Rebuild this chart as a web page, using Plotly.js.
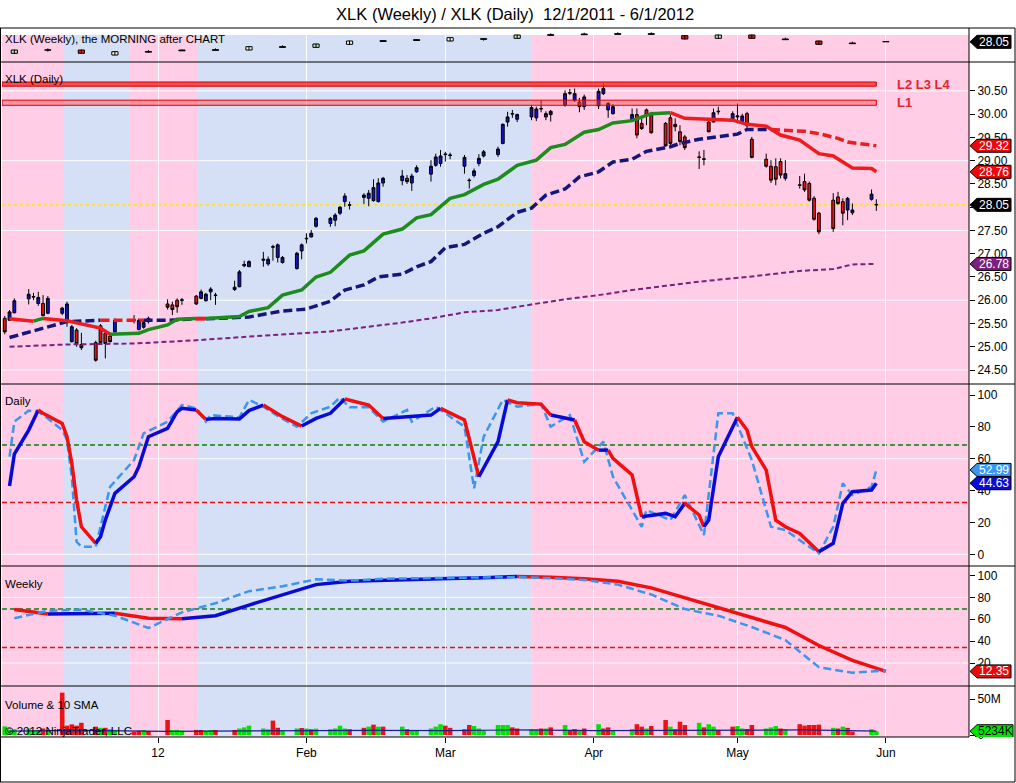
<!DOCTYPE html>
<html>
<head>
<meta charset="utf-8">
<script src="https://cdn.plot.ly/plotly-3.0.1.min.js"></script>
<style>
  html, body { margin: 0; padding: 0; background: #fff; }
  #chart { width: 1016px; height: 783px; }
</style>
</head>
<body>
<div id="chart"></div>
<script>
/////Data/////
// daily XLK bars, one row per week
const dates = [
  '2011-11-30',
  '2011-12-01', '2011-12-02', '2011-12-05', '2011-12-06', '2011-12-07', '2011-12-08', '2011-12-09',
  '2011-12-12', '2011-12-13', '2011-12-14', '2011-12-15', '2011-12-16',
  '2011-12-19', '2011-12-20', '2011-12-21', '2011-12-22', '2011-12-23',
  '2011-12-27', '2011-12-28', '2011-12-29', '2011-12-30',
  '2012-01-03', '2012-01-04', '2012-01-05', '2012-01-06',
  '2012-01-09', '2012-01-10', '2012-01-11', '2012-01-12', '2012-01-13',
  '2012-01-17', '2012-01-18', '2012-01-19', '2012-01-20',
  '2012-01-23', '2012-01-24', '2012-01-25', '2012-01-26', '2012-01-27',
  '2012-01-30', '2012-01-31', '2012-02-01', '2012-02-02', '2012-02-03',
  '2012-02-06', '2012-02-07', '2012-02-08', '2012-02-09', '2012-02-10',
  '2012-02-13', '2012-02-14', '2012-02-15', '2012-02-16', '2012-02-17',
  '2012-02-21', '2012-02-22', '2012-02-23', '2012-02-24',
  '2012-02-27', '2012-02-28', '2012-02-29', '2012-03-01', '2012-03-02',
  '2012-03-05', '2012-03-06', '2012-03-07', '2012-03-08', '2012-03-09',
  '2012-03-12', '2012-03-13', '2012-03-14', '2012-03-15', '2012-03-16',
  '2012-03-19', '2012-03-20', '2012-03-21', '2012-03-22', '2012-03-23',
  '2012-03-26', '2012-03-27', '2012-03-28', '2012-03-29', '2012-03-30',
  '2012-04-02', '2012-04-03', '2012-04-04', '2012-04-05',
  '2012-04-09', '2012-04-10', '2012-04-11', '2012-04-12', '2012-04-13',
  '2012-04-16', '2012-04-17', '2012-04-18', '2012-04-19', '2012-04-20',
  '2012-04-23', '2012-04-24', '2012-04-25', '2012-04-26', '2012-04-27',
  '2012-04-30', '2012-05-01', '2012-05-02', '2012-05-03', '2012-05-04',
  '2012-05-07', '2012-05-08', '2012-05-09', '2012-05-10', '2012-05-11',
  '2012-05-14', '2012-05-15', '2012-05-16', '2012-05-17', '2012-05-18',
  '2012-05-21', '2012-05-22', '2012-05-23', '2012-05-24', '2012-05-25',
  '2012-05-29', '2012-05-30'
];
const opens = [
  25.61,
  25.57, 25.73, 26.03, 26.08, 25.93, 25.93, 25.72,
  25.72, 25.56, 25.11, 25.36, 25.05,
  25.09, 25.45, 25.29, 25.23, 25.32,
  25.57, 25.37, 25.42, 25.54,
  25.92, 25.90, 26.00, 26.01,
  26.09, 26.04, 25.99, 26.18, 26.10,
  26.23, 26.29, 26.74, 26.72,
  26.86, 26.78, 27.14, 26.92, 26.81,
  26.68, 27.06, 27.32, 27.36, 27.59,
  27.65, 27.72, 27.87, 28.12, 28.04,
  28.21, 28.19, 28.14, 28.12, 28.52,
  28.57, 28.62, 28.52, 28.76,
  28.71, 28.90, 28.94, 29.13, 29.11,
  28.88, 28.57, 28.68, 28.94, 29.10,
  29.13, 29.37, 29.83, 30.00, 29.89,
  29.94, 29.92, 30.11, 29.94, 29.99,
  30.19, 30.45, 30.30, 30.26, 30.16,
  30.18, 30.44, 30.09, 30.01,
  29.87, 29.99, 29.80, 30.09, 29.99,
  29.80, 29.92, 29.78, 29.62, 29.51,
  29.08, 29.04, 29.83, 29.83, 30.05,
  29.90, 29.94, 29.84, 30.01, 29.46,
  29.03, 28.88, 28.87, 28.98, 28.62,
  28.48, 28.55, 28.51, 28.19, 27.87,
  28.15, 28.22, 28.12, 27.94, 27.88,
  28.17, 28.06
];
const highs = [
  25.66,
  25.79, 26.04, 26.24, 26.16, 26.18, 26.11, 26.09,
  25.86, 25.97, 25.47, 25.40, 25.30,
  25.13, 25.49, 25.32, 25.27, 25.61,
  25.68, 25.61, 25.56, 25.65,
  26.02, 25.97, 26.04, 26.05,
  26.11, 26.23, 26.16, 26.28, 26.16,
  26.42, 26.65, 26.85, 26.86,
  27.04, 26.94, 27.19, 27.22, 26.95,
  27.04, 27.22, 27.44, 27.51, 27.79,
  27.79, 27.87, 28.02, 28.30, 28.12,
  28.30, 28.37, 28.60, 28.62, 28.65,
  28.80, 28.69, 28.72, 28.90,
  29.01, 29.15, 29.23, 29.19, 29.17,
  29.12, 28.62, 28.83, 29.14, 29.23,
  29.30, 29.80, 30.05, 30.09, 30.01,
  30.19, 30.16, 30.30, 30.06, 30.09,
  30.51, 30.54, 30.55, 30.35, 30.42,
  30.55, 30.66, 30.26, 30.21,
  30.12, 30.12, 29.91, 30.12, 30.05,
  29.83, 29.99, 29.91, 29.76, 29.55,
  29.20, 29.23, 29.91, 30.12, 30.16,
  30.06, 30.23, 30.01, 30.05, 29.51,
  29.15, 29.01, 29.05, 29.05, 29.01,
  28.67, 28.72, 28.55, 28.24, 27.90,
  28.30, 28.33, 28.19, 28.22, 28.08,
  28.38, 28.17
];
const lows = [
  25.27,
  25.56, 25.72, 25.91, 26.00, 25.88, 25.65, 25.70,
  25.68, 25.43, 25.09, 25.00, 24.93,
  24.68, 25.06, 24.75, 25.09, 25.30,
  25.50, 25.35, 25.39, 25.50,
  25.80, 25.68, 25.73, 25.90,
  25.90, 26.02, 25.97, 26.00, 25.90,
  26.20, 26.28, 26.71, 26.72,
  26.72, 26.74, 26.85, 26.81, 26.79,
  26.66, 26.88, 27.22, 27.35, 27.56,
  27.58, 27.59, 27.83, 28.01, 27.95,
  28.07, 28.02, 28.12, 28.10, 28.44,
  28.47, 28.50, 28.35, 28.74,
  28.55, 28.87, 28.87, 28.98, 29.03,
  28.72, 28.40, 28.64, 28.88, 29.07,
  29.08, 29.35, 29.73, 29.92, 29.83,
  29.87, 29.85, 30.04, 29.87, 29.84,
  30.16, 30.41, 30.26, 30.04, 30.09,
  30.11, 30.41, 29.92, 29.99,
  29.83, 29.48, 29.66, 29.76, 29.58,
  29.30, 29.30, 29.63, 29.33, 29.23,
  28.82, 28.90, 29.61, 29.82, 29.99,
  29.83, 29.80, 29.80, 29.69, 29.05,
  28.85, 28.52, 28.47, 28.62, 28.57,
  28.40, 28.33, 28.12, 27.71, 27.42,
  27.47, 28.05, 27.61, 27.72, 27.83,
  28.14, 27.92
];
const closes = [
  25.32,
  25.75, 25.99, 26.13, 26.07, 26.06, 25.67, 26.04,
  25.83, 25.92, 25.43, 25.07, 24.98,
  24.71, 25.09, 25.07, 25.11, 25.57,
  25.58, 25.57, 25.52, 25.61,
  25.85, 25.80, 25.86, 26.00,
  25.92, 26.18, 26.13, 26.24, 26.11,
  26.28, 26.61, 26.77, 26.83,
  26.88, 26.88, 27.15, 27.19, 26.92,
  27.01, 27.19, 27.33, 27.44, 27.76,
  27.76, 27.83, 28.00, 28.24, 28.05,
  28.26, 28.30, 28.42, 28.52, 28.62,
  28.67, 28.55, 28.67, 28.85,
  28.88, 29.08, 29.10, 29.14, 29.12,
  29.07, 28.58, 28.78, 29.05, 29.19,
  29.25, 29.78, 29.94, 30.01, 29.99,
  30.14, 30.11, 30.12, 30.01, 30.06,
  30.44, 30.46, 30.44, 30.16, 30.37,
  30.49, 30.55, 30.23, 30.16,
  29.99, 29.55, 29.69, 29.98, 29.60,
  29.32, 29.37, 29.73, 29.41, 29.28,
  29.07, 29.03, 29.62, 30.03, 30.06,
  30.01, 29.96, 29.96, 29.75, 29.07,
  28.88, 28.58, 28.60, 28.69, 28.72,
  28.47, 28.37, 28.15, 27.74, 27.47,
  27.54, 28.08, 27.87, 28.19, 27.94,
  28.28, 28.05
];
// bar colour as painted (b = blue, r = red)
const barDir = ('r bbbbbrb bbbrr rrrrb bbbb rrrr rbbbb bbbb bbbbb bbbbb bbbbb bbbbb brbb ' +
  'bbbbb bbbbb bbbbb bbbbb bbbrb bbbb brrrr rrrrr rrrbb bbbrr rrrrb rrrrr rrrbb br')
  .replace(/\s/g, '').split('');
// volume in millions, colour g/r
const volume = [
  12,
  7, 8, 9, 6, 7, 9, 7,
  58.8, 13, 14.8, 13, 17,
  11.6, 10, 10, 7.9, 7,
  4.6, 6, 7, 5.6,
  20.8, 7, 7, 6,
  7, 7, 6, 7, 7,
  7, 9, 10.6, 13,
  9, 8, 20, 10, 6,
  9, 9.7, 9, 8, 8.8,
  8, 9, 13, 9, 8,
  10, 11.6, 14.4, 11.6, 11.6,
  11.6, 8, 6, 6,
  9, 11.6, 15, 13, 10,
  8, 13.9, 12.5, 9, 6,
  13.9, 13.9, 13.9, 10.6, 9,
  8, 8, 9, 9, 10.6,
  13.9, 7, 8.3, 7, 9,
  15, 9, 10.6, 6,
  8.3, 15, 11.6, 9, 12.5,
  20.8, 11.6, 8, 18.5, 13.9,
  17, 10.6, 15, 11.6, 7,
  11.6, 12.5, 9, 8.3, 13.9,
  9, 10.6, 12.5, 9, 8,
  15, 13, 13.9, 13.9, 14.4,
  10, 9, 11.6, 10, 4.6,
  8, 5.234
];
const volDir = ('g gggggrg rrrrr rgrgg rrgr rggg rrggr rggg ggrrg grgrg ggggr rgrgr grgg ' +
  'gggrr rrggg gggrr ggrgr grrgr grrg grrgr rgrrr grggr rggrr gggrg rrrrr grgrr gg')
  .replace(/\s/g, '').split('');
const volSmaDates = ['2011-12-01', '2011-12-15', '2012-01-03', '2012-01-17', '2012-02-01', '2012-02-15',
  '2012-03-01', '2012-03-15', '2012-04-02', '2012-04-16', '2012-05-01', '2012-05-15', '2012-05-30'];
const volSma = [5.5, 6.5, 5, 5.5, 6, 6.5, 6, 7, 6, 6.5, 6.5, 7, 5.5];

// moving averages on the daily panel
const maFastDates = ['2011-12-01', '2011-12-06', '2011-12-08', '2011-12-13', '2011-12-20', '2011-12-22',
  '2011-12-28', '2011-12-30', '2012-01-03', '2012-01-05', '2012-01-09', '2012-01-11', '2012-01-13',
  '2012-01-18', '2012-01-20', '2012-01-24', '2012-01-27', '2012-01-31', '2012-02-03', '2012-02-06',
  '2012-02-10', '2012-02-13', '2012-02-17', '2012-02-21', '2012-02-24', '2012-02-27', '2012-03-02',
  '2012-03-05', '2012-03-09', '2012-03-12', '2012-03-16', '2012-03-20', '2012-03-23', '2012-03-26',
  '2012-03-30', '2012-04-02', '2012-04-05', '2012-04-09', '2012-04-13', '2012-04-17', '2012-04-20',
  '2012-04-25', '2012-04-30', '2012-05-03', '2012-05-07', '2012-05-10', '2012-05-14', '2012-05-18',
  '2012-05-21', '2012-05-25', '2012-05-29', '2012-05-30'];
const maFast = [25.60, 25.55, 25.61, 25.56, 25.40, 25.27, 25.29, 25.37, 25.47, 25.59, 25.61, 25.61, 25.62,
  25.65, 25.76, 25.84, 26.11, 26.22, 26.50, 26.60, 26.97, 27.06, 27.42, 27.53, 27.77, 27.84, 28.19,
  28.27, 28.49, 28.60, 28.90, 29.01, 29.28, 29.35, 29.61, 29.67, 29.81, 29.86, 30.01, 30.03, 29.91,
  29.89, 29.87, 29.78, 29.74, 29.55, 29.44, 29.15, 29.10, 28.84, 28.83, 28.76];
const maFastCol = ('rgrrrggggg rggggggggg gggggggggg gggggggggr rrrrrrrrrr rr').replace(/\s/g, '').split('');

const maSlowDates = ['2011-12-01', '2011-12-06', '2011-12-09', '2011-12-13', '2011-12-20', '2011-12-27',
  '2011-12-29', '2012-01-03', '2012-01-09', '2012-01-11', '2012-01-17', '2012-01-20', '2012-01-27',
  '2012-02-01', '2012-02-06', '2012-02-09', '2012-02-13', '2012-02-16', '2012-02-21', '2012-02-24',
  '2012-02-27', '2012-03-01', '2012-03-05', '2012-03-09', '2012-03-12', '2012-03-16', '2012-03-19',
  '2012-03-22', '2012-03-26', '2012-03-29', '2012-04-02', '2012-04-05', '2012-04-09', '2012-04-12',
  '2012-04-17', '2012-04-19', '2012-04-23', '2012-04-27', '2012-05-01', '2012-05-03', '2012-05-08',
  '2012-05-10', '2012-05-15', '2012-05-18', '2012-05-22', '2012-05-24', '2012-05-30'];
const maSlow = [25.20, 25.34, 25.43, 25.54, 25.57, 25.57, 25.57, 25.57, 25.60, 25.60, 25.62, 25.64, 25.77,
  25.81, 25.98, 26.22, 26.33, 26.50, 26.56, 26.72, 26.83, 27.13, 27.20, 27.44, 27.58, 27.89, 27.98,
  28.26, 28.39, 28.65, 28.76, 28.97, 29.03, 29.20, 29.30, 29.37, 29.46, 29.51, 29.57, 29.67, 29.67,
  29.66, 29.63, 29.58, 29.48, 29.40, 29.32];
const maSlowCol = ('nnnnrrnnrn nnnnnnnnnn nnnnnnnnnn nnnnnnnnnn rrrrrrr').replace(/\s/g, '').split('');

const maLongDates = ['2011-12-01', '2011-12-13', '2011-12-27', '2012-01-09', '2012-01-23', '2012-02-06',
  '2012-02-21', '2012-02-27', '2012-03-05', '2012-03-12', '2012-03-19', '2012-03-26', '2012-04-02',
  '2012-04-09', '2012-04-16', '2012-04-23', '2012-05-03', '2012-05-14', '2012-05-21', '2012-05-25', '2012-05-30'];
const maLong = [25.00, 25.05, 25.07, 25.14, 25.24, 25.33, 25.52, 25.61, 25.74, 25.79, 25.91, 26.02, 26.11,
  26.22, 26.31, 26.40, 26.50, 26.63, 26.67, 26.77, 26.78];

// resistance bands
const bandL234 = [30.60, 30.69];
const bandL1 = [30.19, 30.30];

// daily stochastic
const dKDates = ['2011-12-01', '2011-12-02', '2011-12-05', '2011-12-07', '2011-12-08', '2011-12-12',
  '2011-12-13', '2011-12-14', '2011-12-15', '2011-12-16', '2011-12-19', '2011-12-20', '2011-12-21',
  '2011-12-23', '2011-12-27', '2011-12-28', '2011-12-30', '2012-01-03', '2012-01-05', '2012-01-06',
  '2012-01-09', '2012-01-11', '2012-01-13', '2012-01-18', '2012-01-20', '2012-01-23', '2012-01-27',
  '2012-01-31', '2012-02-03', '2012-02-06', '2012-02-09', '2012-02-14', '2012-02-17', '2012-02-23',
  '2012-02-27', '2012-02-29', '2012-03-05', '2012-03-08', '2012-03-12', '2012-03-14', '2012-03-16',
  '2012-03-21', '2012-03-23', '2012-03-28', '2012-03-30', '2012-04-02', '2012-04-04', '2012-04-05',
  '2012-04-09', '2012-04-11', '2012-04-16', '2012-04-18', '2012-04-20', '2012-04-23', '2012-04-24',
  '2012-04-25', '2012-04-27', '2012-05-01', '2012-05-03', '2012-05-04', '2012-05-07', '2012-05-09',
  '2012-05-11', '2012-05-14', '2012-05-18', '2012-05-21', '2012-05-23', '2012-05-25', '2012-05-29', '2012-05-30'];
const dK = [42.9, 62.9, 78.0, 90.6, 88.5, 82.2, 73.8, 57.1, 34.1, 17.3, 6.9, 11.1, 21.5, 38.3, 48.7, 55.0,
  73.8, 79.1, 89.5, 91.6, 90.6, 84.7, 85.3, 84.9, 90.2, 93.7, 86.4, 80.5, 85.3, 88.5, 97.5, 93.7, 85.3,
  86.8, 87.4, 91.6, 84.3, 48.7, 70.7, 96.9, 95.2, 94.3, 87.4, 84.3, 70.7, 65.4, 65.4, 60.2, 49.8, 23.6,
  25.7, 23.6, 32.0, 24.7, 17.3, 21.5, 61.3, 86.0, 78.0, 67.6, 52.9, 21.5, 17.3, 13.1, 1.6, 6.9, 32.0,
  39.3, 40.4, 44.63];
const dKCol = ('bbbrrrrrrr bbbbbbbbbb rbbbbrrbbb rrbbbrrbbr rrbrrbrrrb bbrrbbbrrr rrrrbbbbbb')
  .replace(/\s/g, '').split('');
const dDDates = ['2011-12-01', '2011-12-02', '2011-12-05', '2011-12-07', '2011-12-09', '2011-12-12',
  '2011-12-13', '2011-12-14', '2011-12-15', '2011-12-16', '2011-12-19', '2011-12-22', '2011-12-27',
  '2011-12-29', '2012-01-03', '2012-01-06', '2012-01-09', '2012-01-11', '2012-01-12', '2012-01-18',
  '2012-01-20', '2012-01-23', '2012-01-26', '2012-01-30', '2012-02-02', '2012-02-06', '2012-02-08',
  '2012-02-10', '2012-02-14', '2012-02-17', '2012-02-22', '2012-02-23', '2012-02-28', '2012-03-05',
  '2012-03-07', '2012-03-09', '2012-03-13', '2012-03-16', '2012-03-21', '2012-03-23', '2012-03-27',
  '2012-03-30', '2012-04-03', '2012-04-05', '2012-04-11', '2012-04-12', '2012-04-17', '2012-04-20',
  '2012-04-24', '2012-04-27', '2012-04-30', '2012-05-04', '2012-05-08', '2012-05-11', '2012-05-18',
  '2012-05-21', '2012-05-23', '2012-05-25', '2012-05-29', '2012-05-30'];
const dD = [61.3, 83.3, 90.2, 89.5, 85.3, 78.0, 71.8, 48.7, 7.9, 4.8, 4.8, 42.4, 59.2, 75.9, 83.3, 93.7,
  91.6, 83.3, 87.4, 86.0, 96.9, 92.7, 86.8, 80.1, 88.5, 92.7, 98.5, 92.3, 92.3, 83.3, 90.6, 83.3, 92.7,
  80.1, 41.4, 73.8, 96.9, 92.7, 94.3, 80.1, 87.4, 58.1, 70.7, 48.7, 17.3, 27.8, 21.5, 37.2, 12.1, 88.5,
  88.5, 59.2, 17.3, 15.2, 0.6, 17.3, 44.6, 37.2, 42.4, 52.99];

// weekly bars and weekly stochastic (dated on Fridays)
const wkDates = ['2011-12-02', '2011-12-09', '2011-12-16', '2011-12-23', '2011-12-30', '2012-01-06',
  '2012-01-13', '2012-01-20', '2012-01-27', '2012-02-03', '2012-02-10', '2012-02-17', '2012-02-24',
  '2012-03-02', '2012-03-09', '2012-03-16', '2012-03-23', '2012-03-30', '2012-04-06', '2012-04-13',
  '2012-04-20', '2012-04-27', '2012-05-04', '2012-05-11', '2012-05-18', '2012-05-25', '2012-06-01'];
const wkOpen = [24.6, 25.55, 25.6, 24.1, 24.95, 25.35, 25.5, 25.6, 26.4, 26.4, 27.3, 28.15, 28.45, 28.3,
  28.8, 29.1, 30.0, 30.2, 30.3, 30.3, 29.9, 29.1, 30.1, 28.7, 28.3, 27.5, 28.15];
const wkHigh = [25.7, 26.1, 25.7, 25.2, 25.6, 25.7, 26.1, 26.7, 27.0, 27.5, 28.4, 28.5, 28.8, 29.4,
  29.05, 30.2, 30.6, 30.8, 30.9, 30.9, 30.0, 30.2, 30.2, 29.3, 28.4, 28.1, 28.2];
const wkLow = [24.5, 25.1, 24.5, 24.0, 24.9, 25.3, 25.45, 25.5, 26.35, 26.3, 27.2, 28.1, 28.4, 28.2,
  28.4, 29.0, 29.95, 30.15, 30.25, 30.25, 28.8, 29.0, 29.0, 28.65, 27.2, 27.45, 28.0];
const wkClose = [25.6, 25.65, 24.6, 25.1, 25.15, 25.6, 25.7, 26.6, 26.6, 27.4, 28.3, 28.4, 28.7, 29.3,
  29.0, 30.1, 30.2, 30.4, 30.5, 30.5, 28.9, 30.1, 29.1, 28.9, 27.3, 27.7, 28.05];
const wkType = 'gkrwkkkwkgwkkwkgkkkkrgrkrkk'.split('');
const wKCol = ('rbbrr bbbbbbbbbb rrrrrrrrrrrr').replace(/\s/g, '').split('');
const wK = [69.0, 64.8, 65.0, 65.5, 61.0, 60.4, 63.3, 73.0, 82.5, 91.7, 94.8, 95.8, 96.5, 97.2, 98.0,
  99.1, 98.5, 97.0, 94.7, 88.7, 79.5, 70.6, 61.0, 52.5, 36.0, 22.5, 12.35];
const wD = [61.0, 67.8, 68.7, 63.3, 52.0, 66.3, 74.7, 85.7, 90.2, 96.5, 95.3, 97.0, 97.5, 98.0, 98.5,
  98.6, 97.5, 96.0, 91.7, 82.7, 69.3, 63.3, 52.9, 41.0, 16.2, 11.1, 13.2];

// background shading (weekly trend state)
const shadeEdges = ['2011-12-12 04:00', '2011-12-26 04:00', '2012-01-09 03:30', '2012-03-19 02:00'];
const shadeState = ['p', 'b', 'p', 'b', 'p'];

// axes
const monthTicks = ['2012-01-01', '2012-02-01', '2012-03-01', '2012-04-01', '2012-05-01', '2012-06-01'];
const monthLabels = ['12', 'Feb', 'Mar', 'Apr', 'May', 'Jun'];
const priceTicks = [24.5, 25, 25.5, 26, 26.5, 27, 27.5, 28, 28.5, 29, 29.5, 30, 30.5];
const stochTicks = [0, 20, 40, 60, 80, 100];
const stochLevels = {daily: [68.7, 32.6], weekly: [69.3, 34.1]};

/////Style and geometry/////
const FONT = 'Liberation Sans, Arial, sans-serif';
const DAY = 86400000;
const X_RANGE = ['2011-11-29 10:12', '2012-06-18 08:24'];
const PX = {left: 2, right: 969, top: 28, bottom: 737};
function xp(px) { return (px - PX.left) / (PX.right - PX.left); }
function yp(py) { return (PX.bottom - py) / (PX.bottom - PX.top); }

const PINK = '#ffcde6';
const LBLUE = '#d5e0f6';
const CANDLE_BLUE = '#1212c4';
const CANDLE_RED = '#e01212';
const last = (arr) => arr[arr.length - 1];

/////Traces/////
function runTraces(xs, ys, cols, palette, yaxis, width, dash) {
  // one trace per run of equal colour, neighbouring runs share their joint
  let runs = [];
  let cur = null;
  for (let i = 0; i < xs.length - 1; i++) {
    if (!cur || cur.c !== cols[i]) {
      cur = {c: cols[i], x: [xs[i]], y: [ys[i]]};
      runs.push(cur);
    }
    cur.x.push(xs[i + 1]);
    cur.y.push(ys[i + 1]);
  }
  return runs.map((r) => ({
    type: 'scatter', mode: 'lines', x: r.x, y: r.y, xaxis: 'x', yaxis: yaxis,
    line: {color: palette[r.c], width: width, dash: dash || 'solid'},
    hoverinfo: 'none', showlegend: false
  }));
}
function candleTrace(dir, fill) {
  let idx = dates.map((d, i) => i).filter((i) => barDir[i] === dir);
  let pick = (arr) => idx.map((i) => arr[i]);
  return {
    type: 'candlestick', x: pick(dates), open: pick(opens), high: pick(highs),
    low: pick(lows), close: pick(closes), xaxis: 'x', yaxis: 'y2',
    increasing: {line: {color: '#000', width: 1}, fillcolor: fill},
    decreasing: {line: {color: '#000', width: 1}, fillcolor: fill},
    whiskerwidth: 0, hoverinfo: 'none', showlegend: false
  };
}

let traces = [];
// volume
traces.push({
  type: 'bar', x: dates, y: volume, xaxis: 'x', yaxis: 'y5', width: 0.95 * DAY,
  marker: {color: volDir.map((c) => c === 'g' ? '#00e400' : '#ee1111'), line: {width: 0}},
  hoverinfo: 'none', showlegend: false
});
traces.push({
  type: 'scatter', mode: 'lines', x: volSmaDates, y: volSma, xaxis: 'x', yaxis: 'y5',
  line: {color: '#1c1c96', width: 1.2}, hoverinfo: 'none', showlegend: false
});
// weekly strip
let wkX = [], wkY = [];
wkDates.forEach((d, i) => { wkX.push(d, d, null); wkY.push(wkLow[i], wkHigh[i], null); });
traces.push({
  type: 'scatter', mode: 'lines', x: wkX, y: wkY, xaxis: 'x', yaxis: 'y',
  line: {color: '#000', width: 1}, hoverinfo: 'none', showlegend: false
});
const wkFill = {g: '#b6eaae', w: '#f6f6e6', r: '#e41b1b', k: '#000000'};
traces.push({
  type: 'bar', x: wkDates, xaxis: 'x', yaxis: 'y', width: 1.3 * DAY,
  base: wkOpen.map((o, i) => Math.min(o, wkClose[i])),
  y: wkOpen.map((o, i) => Math.max(Math.abs(wkClose[i] - o), 0.05)),
  marker: {color: wkType.map((t) => wkFill[t]), line: {color: '#000', width: 1}},
  hoverinfo: 'none', showlegend: false
});
// daily price
traces.push(candleTrace('b', CANDLE_BLUE));
traces.push(candleTrace('r', CANDLE_RED));
traces.push(...runTraces(maLongDates, maLong, maLongDates.map(() => 'p'), {p: '#7d1f7d'}, 'y2', 2, '5px,3px'));
traces.push(...runTraces(maSlowDates, maSlow, maSlowCol, {n: '#16167a', r: '#ee1c1c'}, 'y2', 3.5, '9px,4px'));
traces.push(...runTraces(maFastDates, maFast, maFastCol, {g: '#1c8c1c', r: '#ee1c1c'}, 'y2', 3.5));
// stochastics
const stochPal = {b: '#0a0ad6', r: '#f01010'};
traces.push({
  type: 'scatter', mode: 'lines', x: dDDates, y: dD, xaxis: 'x', yaxis: 'y3',
  line: {color: '#3a96ee', width: 2.5, dash: '8px,4px'}, hoverinfo: 'none', showlegend: false
});
traces.push(...runTraces(dKDates, dK, dKCol, stochPal, 'y3', 3.5));
traces.push(...runTraces(wkDates, wK, wKCol, stochPal, 'y4', 3.5));
traces.push({
  type: 'scatter', mode: 'lines', x: wkDates, y: wD, xaxis: 'x', yaxis: 'y4',
  line: {color: '#3a96ee', width: 2.5, dash: '8px,4px'}, hoverinfo: 'none', showlegend: false
});

/////Shapes and labels/////
let shapes = [];
let annotations = [];
// shading
let edges = [X_RANGE[0], ...shadeEdges, X_RANGE[1]];
shadeState.forEach((s, i) => {
  shapes.push({
    type: 'rect', xref: 'x', yref: 'paper', x0: edges[i], x1: edges[i + 1], y0: 0, y1: yp(35),
    fillcolor: s === 'p' ? PINK : LBLUE, line: {width: 0}, layer: 'below'
  });
});
// light grid
function hline(yref, y, color, width, dash, layer) {
  shapes.push({
    type: 'line', xref: 'paper', yref: yref, x0: 0, x1: 1, y0: y, y1: y,
    line: {color: color, width: width, dash: dash || 'solid'}, layer: layer || 'below'
  });
}
[24.5, 26, 27.5, 29, 30.5].forEach((v) => hline('y2', v, 'rgba(255,255,255,0.9)', 1));
[0, 60].forEach((v) => hline('y3', v, 'rgba(255,255,255,0.9)', 1));
[20, 80].forEach((v) => hline('y4', v, 'rgba(255,255,255,0.9)', 1));
hline('y2', last(closes), '#f7e23a', 2, 'dot');
hline('y3', stochLevels.daily[0], '#137a13', 1.5, '5px,3px');
hline('y3', stochLevels.daily[1], '#e01414', 1.5, '5px,3px');
hline('y4', stochLevels.weekly[0], '#137a13', 1.5, '5px,3px');
hline('y4', stochLevels.weekly[1], '#e01414', 1.5, '5px,3px');
// L bands
shapes.push({
  type: 'rect', xref: 'x', yref: 'y2', x0: X_RANGE[0], x1: last(dates), y0: bandL234[0], y1: bandL234[1],
  fillcolor: 'rgba(255,45,45,0.82)', line: {color: '#c80000', width: 1}, layer: 'above'
});
shapes.push({
  type: 'rect', xref: 'x', yref: 'y2', x0: X_RANGE[0], x1: last(dates), y0: bandL1[0], y1: bandL1[1],
  fillcolor: 'rgba(255,70,70,0.42)', line: {color: '#e00000', width: 1}, layer: 'above'
});
annotations.push({
  xref: 'paper', yref: 'y2', x: xp(895), y: (bandL234[0] + bandL234[1]) / 2, xanchor: 'left', yanchor: 'middle',
  text: '<b>L2 L3 L4</b>', showarrow: false, font: {family: FONT, size: 13, color: '#e3262d'}
});
annotations.push({
  xref: 'paper', yref: 'y2', x: xp(895), y: (bandL1[0] + bandL1[1]) / 2, xanchor: 'left', yanchor: 'middle',
  text: '<b>L1</b>', showarrow: false, font: {family: FONT, size: 13, color: '#e3262d'}
});
// frame
function seg(x0, y0, x1, y1) {
  shapes.push({
    type: 'line', xref: 'paper', yref: 'paper', x0: xp(x0), x1: xp(x1), y0: yp(y0), y1: yp(y1),
    line: {color: '#000', width: 1}, layer: 'above'
  });
}
[28, 62, 384, 566, 686, 782].forEach((py) => seg(0, py, 1015, py));
seg(0, 737, 969, 737);
seg(969, 28, 969, 737);
seg(0.5, 28, 0.5, 782);
seg(1015, 28, 1015, 782);
// value tags on the right axis
function tag(yref, value, fill, text, textColor, w) {
  w = w || 42;
  shapes.push({
    type: 'path', xref: 'paper', yref: yref, xsizemode: 'pixel', ysizemode: 'pixel', xanchor: 1, yanchor: value,
    path: 'M1,0 L8,6.5 L' + w + ',6.5 L' + w + ',-6.5 L8,-6.5 Z',
    fillcolor: fill, line: {color: '#000', width: 1}, layer: 'above'
  });
  annotations.push({
    xref: 'paper', yref: yref, x: 1, y: value, xanchor: 'center', yanchor: 'middle', xshift: (8 + w) / 2,
    text: text, showarrow: false, font: {family: FONT, size: 12, color: textColor}
  });
}
tag('y', last(wkClose), '#000', last(wkClose).toFixed(2), '#fff');
tag('y2', last(maSlow), '#e80a0a', last(maSlow).toFixed(2), '#fff');
tag('y2', last(maFast), '#e80a0a', last(maFast).toFixed(2), '#fff');
tag('y2', last(closes), '#000', last(closes).toFixed(2), '#fff');
tag('y2', last(maLong), '#7d1f7d', last(maLong).toFixed(2), '#fff');
tag('y3', last(dD), '#3a96ee', last(dD).toFixed(2), '#fff');
tag('y3', last(dK), '#0a0ad6', last(dK).toFixed(2), '#fff');
tag('y4', last(wK), '#e80a0a', last(wK).toFixed(2), '#fff');
tag('y5', last(volume), '#00e400', Math.round(last(volume) * 1000) + 'K', '#000', 44);
// panel captions
function caption(py, text) {
  annotations.push({
    xref: 'paper', yref: 'paper', x: xp(3), y: yp(py), xanchor: 'left', yanchor: 'middle',
    text: text, showarrow: false, font: {family: FONT, size: 11.5, color: '#000'}
  });
}
caption(39, 'XLK (Weekly), the MORNING after CHART');
caption(79, 'XLK (Daily)');
caption(401, 'Daily');
caption(584, 'Weekly');
caption(705, 'Volume &amp; 10 SMA');
caption(731, '\u00a9 2012 NinjaTrader, LLC');

/////Layout/////
function yAxis(domain, range, extra) {
  return Object.assign({
    domain: domain, range: range, anchor: 'x', side: 'right', fixedrange: true,
    showgrid: false, zeroline: false, showline: false,
    ticks: 'outside', ticklen: 5, tickwidth: 1, tickcolor: '#000',
    tickfont: {family: FONT, size: 12, color: '#000'}
  }, extra);
}
const layout = {
  width: 1016, height: 783,
  margin: {l: PX.left, r: 1016 - PX.right, t: PX.top, b: 783 - PX.bottom},
  paper_bgcolor: '#ffffff', plot_bgcolor: 'rgba(0,0,0,0)',
  showlegend: false, boxgap: 0.15, barmode: 'overlay',
  title: {
    text: 'XLK (Weekly) / XLK (Daily)\u00a0 12/1/2011 - 6/1/2012',
    x: 0.507, xref: 'container', xanchor: 'center', y: 1 - 14 / 783, yref: 'container', yanchor: 'middle',
    font: {family: FONT, size: 16.5, color: '#000'}
  },
  xaxis: {
    type: 'date', range: X_RANGE, anchor: 'y5', domain: [0, 1], fixedrange: true,
    tickvals: monthTicks, ticktext: monthLabels, ticks: 'outside', ticklen: 5, tickcolor: '#000',
    tickfont: {family: FONT, size: 12, color: '#000'},
    showgrid: true, gridcolor: 'rgba(255,255,255,0.9)', gridwidth: 1,
    zeroline: false, showline: false, rangeslider: {visible: false}
  },
  yaxis: yAxis([yp(62), 1], [22, 32.2], {showticklabels: false, ticks: ''}),
  yaxis2: yAxis([yp(384), yp(62)], [24.2, 31.12], {tickvals: priceTicks, tickformat: '.2f'}),
  yaxis3: yAxis([yp(566), yp(384)], [-7.3, 106.9], {tickvals: stochTicks}),
  yaxis4: yAxis([yp(686), yp(566)], [-1, 108.7], {tickvals: stochTicks.slice(1)}),
  yaxis5: yAxis([0, yp(686)], [-2.78, 68.1], {tickvals: [0, 50], ticktext: ['0', '50M']}),
  shapes: shapes,
  annotations: annotations
};

Plotly.newPlot('chart', traces, layout, {displayModeBar: false, staticPlot: true});
</script>
</body>
</html>
